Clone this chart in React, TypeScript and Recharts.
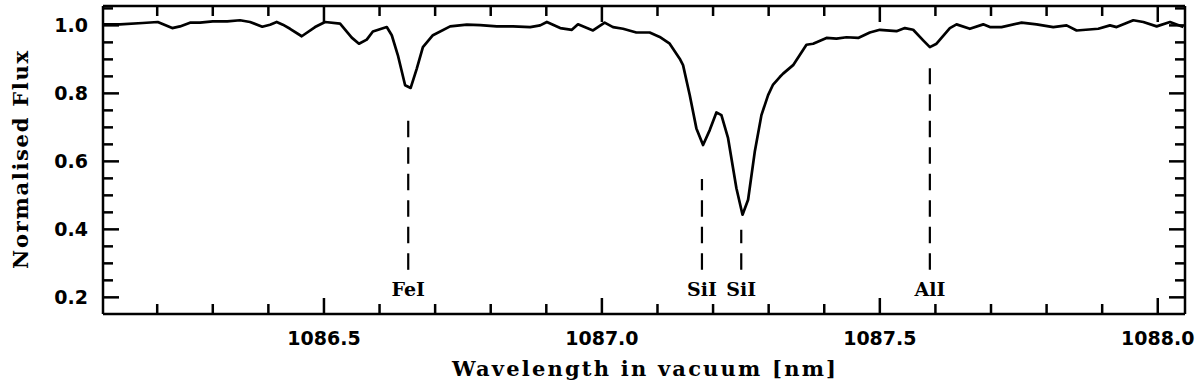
import React from 'react';
import { LineChart, Line, XAxis, YAxis, ReferenceLine, ReferenceDot } from 'recharts';

const WAVELENGTH = [
  1086.103, 1086.133, 1086.174, 1086.201, 1086.227, 1086.241, 1086.259, 1086.277, 1086.3, 1086.326,
  1086.349, 1086.367, 1086.389, 1086.403, 1086.415, 1086.426, 1086.439, 1086.46, 1086.484, 1086.502,
  1086.529, 1086.55, 1086.563, 1086.577, 1086.588, 1086.613, 1086.622, 1086.633, 1086.646, 1086.656,
  1086.667, 1086.678, 1086.696, 1086.727, 1086.757, 1086.781, 1086.811, 1086.84, 1086.871, 1086.889,
  1086.901, 1086.925, 1086.946, 1086.957, 1086.984, 1087.005, 1087.02, 1087.038, 1087.062, 1087.086,
  1087.104, 1087.122, 1087.14, 1087.146, 1087.158, 1087.17, 1087.182, 1087.194, 1087.206, 1087.215,
  1087.227, 1087.242, 1087.253, 1087.263, 1087.275, 1087.287, 1087.299, 1087.308, 1087.32, 1087.326,
  1087.344, 1087.368, 1087.38, 1087.404, 1087.422, 1087.44, 1087.461, 1087.482, 1087.5, 1087.53,
  1087.545, 1087.56, 1087.578, 1087.59, 1087.602, 1087.626, 1087.638, 1087.662, 1087.686, 1087.698,
  1087.719, 1087.755, 1087.782, 1087.812, 1087.836, 1087.854, 1087.893, 1087.914, 1087.926, 1087.956,
  1087.974, 1087.998, 1088.022, 1088.046,
];

const FLUX = [
  1.003, 1.003, 1.007, 1.01, 0.992, 0.997, 1.008, 1.008, 1.012, 1.012,
  1.015, 1.01, 0.996, 1.002, 1.01, 1.002, 0.99, 0.968, 0.995, 1.01,
  1.005, 0.964, 0.946, 0.958, 0.982, 0.995, 0.971, 0.912, 0.824, 0.816,
  0.873, 0.936, 0.971, 0.997, 1.002, 1.001, 0.997, 0.997, 0.995, 1.0,
  1.01, 0.992, 0.987, 1.003, 0.985, 1.008, 0.995, 0.99, 0.979, 0.979,
  0.966, 0.946, 0.902, 0.883, 0.795, 0.697, 0.648, 0.692, 0.744, 0.736,
  0.668, 0.521, 0.443, 0.487, 0.628, 0.736, 0.795, 0.826, 0.848, 0.858,
  0.883, 0.943, 0.946, 0.963, 0.961, 0.965, 0.963, 0.979, 0.987, 0.983,
  0.992, 0.987, 0.956, 0.936, 0.946, 0.992, 1.003, 0.99, 1.003, 0.995,
  0.995, 1.008, 1.003, 0.995, 1.0, 0.985, 0.99, 1.0, 0.995, 1.015,
  1.01, 0.997, 1.01, 0.995,
];

const LINE_NAMES = ['FeI', 'SiI', 'SiI', 'AlI'];
const LINE_WAVELENGTHS = [1086.6516, 1087.18, 1087.2507, 1087.59];
const LINE_TOPS = [0.748, 0.548, 0.399, 0.874];
const LINE_BOTTOM = 0.281;
const LINE_LABEL_FLUX = 0.205;

const X_DOMAIN = [1086.1025, 1088.049];
const Y_DOMAIN = [0.151, 1.057];
const X_TICKS = [
  1086.2, 1086.3, 1086.4, 1086.5, 1086.6, 1086.7, 1086.8, 1086.9, 1087.0,
  1087.1, 1087.2, 1087.3, 1087.4, 1087.5, 1087.6, 1087.7, 1087.8, 1087.9, 1088.0,
];
const X_TICK_LABELS = ['1086.5', '1087.0', '1087.5', '1088.0'];
const Y_TICKS = [
  0.2, 0.25, 0.3, 0.35, 0.4, 0.45, 0.5, 0.55, 0.6, 0.65, 0.7, 0.75, 0.8, 0.85, 0.9, 0.95, 1.0, 1.05,
];
const Y_TICK_LABELS = ['0.2', '0.4', '0.6', '0.8', '1.0'];

const X_TITLE = 'Wavelength in vacuum [nm]';
const Y_TITLE = 'Normalised Flux';

const data = WAVELENGTH.map((w, i) => ({ w, f: FLUX[i] }));

const TICK_FONT = '"DejaVu Sans", sans-serif';
const TITLE_FONT = '"DejaVu Serif", serif';
const MAJOR = 16;
const MINOR = 10;
const TICK_W = 2.5;

const xLabel = (v: number) => {
  const s = v.toFixed(1);
  return X_TICK_LABELS.includes(s) ? s : null;
};
const yLabel = (v: number) => {
  const s = v.toFixed(1);
  return Y_TICK_LABELS.includes(s) && Math.abs(v - Number(s)) < 1e-6 ? s : null;
};

const BottomTick = (p: any) => {
  const lab = xLabel(p.payload.value);
  const len = lab ? MAJOR : MINOR;
  return (
    <g>
      <line x1={p.x} x2={p.x} y1={p.y} y2={p.y - len} stroke="#000" strokeWidth={TICK_W} />
      {lab && (
        <text x={p.x} y={p.y + 31} textAnchor="middle" fontFamily={TICK_FONT} fontWeight="bold" fontSize={19} fill="#000">
          {lab}
        </text>
      )}
    </g>
  );
};

const TopTick = (p: any) => {
  const lab = xLabel(p.payload.value);
  const len = lab ? MAJOR : MINOR;
  return <line x1={p.x} x2={p.x} y1={p.y} y2={p.y + len} stroke="#000" strokeWidth={TICK_W} />;
};

const LeftTick = (p: any) => {
  const lab = yLabel(p.payload.value);
  const len = lab ? MAJOR : MINOR;
  return (
    <g>
      <line x1={p.x} x2={p.x + len} y1={p.y} y2={p.y} stroke="#000" strokeWidth={TICK_W} />
      {lab && (
        <text x={p.x - 15} y={p.y + 7} textAnchor="end" fontFamily={TICK_FONT} fontWeight="bold" fontSize={19} fill="#000">
          {lab}
        </text>
      )}
    </g>
  );
};

const RightTick = (p: any) => {
  const lab = yLabel(p.payload.value);
  const len = lab ? MAJOR : MINOR;
  return <line x1={p.x} x2={p.x - len} y1={p.y} y2={p.y} stroke="#000" strokeWidth={TICK_W} />;
};

const XTitle = (p: any) => {
  const vb = p.viewBox || {};
  return (
    <text
      x={vb.x + vb.width / 2}
      y={vb.y + 62}
      textAnchor="middle"
      fontFamily={TITLE_FONT}
      fontWeight="bold"
      fontSize={21}
      textLength={384}
      lengthAdjust="spacing"
      fill="#000"
    >
      {X_TITLE}
    </text>
  );
};

const YTitle = (p: any) => {
  const vb = p.viewBox || {};
  const cx = 28;
  const cy = vb.y + vb.height / 2;
  return (
    <text
      x={cx}
      y={cy}
      transform={`rotate(-90 ${cx} ${cy})`}
      textAnchor="middle"
      fontFamily={TITLE_FONT}
      fontWeight="bold"
      fontSize={21}
      textLength={218}
      lengthAdjust="spacing"
      fill="#000"
    >
      {Y_TITLE}
    </text>
  );
};

export default function App() {
  return (
    <div style={{ position: 'absolute', left: 0, top: 0, width: 1200, height: 387, background: '#fff' }}>
      <LineChart width={1200} height={387} data={data} margin={{ top: 5, right: 14, bottom: 72, left: 0 }}>
        <XAxis
          xAxisId="b"
          type="number"
          dataKey="w"
          domain={X_DOMAIN}
          allowDataOverflow
          ticks={X_TICKS}
          interval={0}
          tick={BottomTick}
          tickLine={false}
          tickSize={0}
          tickMargin={0}
          height={1}
          axisLine={{ stroke: '#000', strokeWidth: 2.5 }}
          label={XTitle}
        />
        <XAxis
          xAxisId="t"
          orientation="top"
          type="number"
          dataKey="w"
          domain={X_DOMAIN}
          allowDataOverflow
          ticks={X_TICKS}
          interval={0}
          tick={TopTick}
          tickLine={false}
          tickSize={0}
          tickMargin={0}
          height={1}
          axisLine={{ stroke: '#000', strokeWidth: 2.5 }}
        />
        <YAxis
          yAxisId="l"
          type="number"
          domain={Y_DOMAIN}
          allowDataOverflow
          ticks={Y_TICKS}
          interval={0}
          tick={LeftTick}
          tickLine={false}
          tickSize={0}
          tickMargin={0}
          width={103}
          axisLine={{ stroke: '#000', strokeWidth: 2.5 }}
          label={YTitle}
        />
        <YAxis
          yAxisId="r"
          orientation="right"
          type="number"
          domain={Y_DOMAIN}
          allowDataOverflow
          ticks={Y_TICKS}
          interval={0}
          tick={RightTick}
          tickLine={false}
          tickSize={0}
          tickMargin={0}
          width={1}
          axisLine={{ stroke: '#000', strokeWidth: 2.5 }}
        />
        {LINE_WAVELENGTHS.map((w, i) => (
          <ReferenceLine
            key={'rl' + i}
            xAxisId="b"
            yAxisId="l"
            segment={[
              { x: w, y: LINE_BOTTOM },
              { x: w, y: LINE_TOPS[i] },
            ]}
            stroke="#000"
            strokeWidth={2.2}
            strokeDasharray="16.5 10"
          />
        ))}
        {LINE_WAVELENGTHS.map((w, i) => (
          <ReferenceDot
            key={'rd' + i}
            xAxisId="b"
            yAxisId="l"
            x={w}
            y={LINE_LABEL_FLUX}
            r={0}
            shape={(p: any) => (
              <text x={p.cx} y={p.cy} textAnchor="middle" fontFamily={TITLE_FONT} fontWeight="bold" fontSize={19} fill="#000">
                {LINE_NAMES[i]}
              </text>
            )}
          />
        ))}
        <Line
          xAxisId="b"
          yAxisId="l"
          type="linear"
          dataKey="f"
          stroke="#000"
          strokeWidth={2.7}
          strokeLinejoin="round"
          dot={false}
          activeDot={false}
          isAnimationActive={false}
        />
      </LineChart>
    </div>
  );
}
